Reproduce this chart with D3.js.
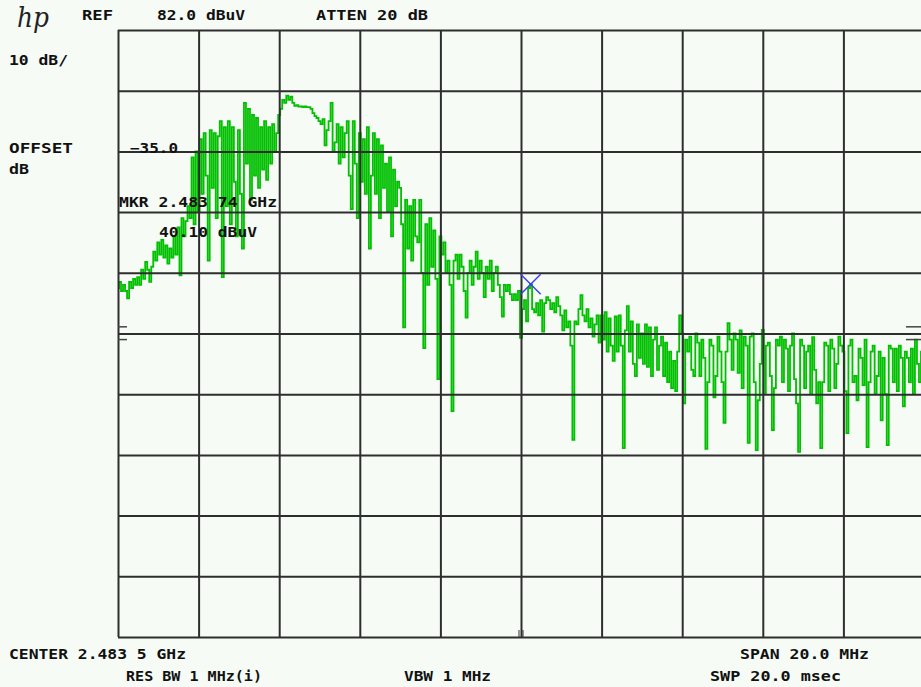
<!DOCTYPE html>
<html>
<head>
<meta charset="utf-8">
<script src="https://cdn.jsdelivr.net/npm/d3@7"></script>
<style>
  html, body { margin: 0; padding: 0; background: #f6fbf6; }
  svg { display: block; }
  .lbl { font-family: "DejaVu Sans Mono", monospace; font-weight: bold; font-size: 14px; fill: #111; }
</style>
</head>
<body>
<svg id="chart" width="921" height="687"></svg>
<script>
// ---- Data (HP spectrum analyzer trace, dBuV) ----
const centerMHz = 2483.5;
const spanMHz = 20.0;
const refLevel = 82.0;      // dBuV, top graticule
const dbPerDiv = 10;
const divisions = [0, 1, 2, 3, 4, 5, 6, 7, 8, 9, 10];
const markerFreqMHz = 2483.74;
const markerLevel = 40.10;
const displayLineMarks = [33.1, 31.0];   // small side indicators (dBuV)

// 401 sweep points, left to right (dBuV)
const traceValues = [
  39.5, 40.5, 39, 40, 39, 37.8, 40.5, 39.5, 41, 40,
  41.3, 40, 42.5, 41, 43.8, 42.5, 40.5, 43, 45.5, 44,
  47, 45, 47.4, 44.5, 46.5, 43.5, 46, 44.5, 48, 45,
  49.5, 41.6, 51, 48, 50.5, 53, 51, 61, 50, 62,
  52, 64, 55, 65, 58, 44, 65.5, 56, 65, 51,
  64.5, 67, 41.3, 66, 53, 67, 50, 66, 57, 48,
  65.5, 55, 46, 70, 60, 69, 54, 68, 58, 67.5,
  56, 66, 59, 67, 57.3, 66, 60, 66.5, 62, 65,
  68, 69, 70.5, 70, 71.2, 70.5, 71, 70, 69.5, 69.6,
  69.4, 69.4, 69.3, 69.4, 69.3, 69.3, 69, 68.3, 67.8, 67.5,
  67, 66.5, 67.3, 63, 65.5, 67, 70, 62, 63.5, 66.5,
  60, 66, 61, 65, 67, 58, 52.5, 67, 60, 51,
  65, 57, 64, 55, 66, 46, 58, 65, 55, 64,
  51, 63, 56, 60, 52, 61, 48, 59, 53, 57,
  56, 50, 33, 54, 46, 53, 44, 54, 48, 47,
  54, 42, 29.6, 50, 40, 51, 43, 49, 41, 24.5,
  48, 45, 47, 42, 44, 40, 19.2, 44, 45, 41,
  45, 43, 39, 34.6, 42, 44, 40, 43, 45.5, 41,
  44, 42, 38, 43, 41, 44, 39, 42, 43, 40,
  38, 34.8, 40, 39, 40, 38.5, 37.5, 38.5, 37.5, 39,
  31.3, 36, 37.5, 34, 39.5, 40.1, 36, 35.5, 37, 35,
  37.5, 32.3, 37, 38, 37.5, 36, 37, 35.5, 38, 36.5,
  35, 32.5, 35.8, 33, 34, 30, 14.5, 34, 33.5, 36,
  38.3, 35, 34, 36, 33, 34.5, 31.5, 33.5, 35, 30.5,
  35, 31, 35.5, 29, 34.5, 30, 27.5, 34.8, 29, 35,
  30, 13.1, 32.5, 36.5, 29, 34, 27, 25, 33.5, 28,
  32, 27, 33.5, 26.5, 33, 25, 31, 33, 26, 30,
  31.5, 25, 30.5, 24, 29, 23, 27.5, 22.5, 29, 35,
  32, 20.5, 31, 29, 31.5, 26, 25, 32, 30.5, 25,
  31, 28, 13, 24, 31, 30, 21.5, 25, 31.5, 29,
  24, 17.3, 29, 33.7, 31, 26, 32, 31, 25.5, 32.5,
  23, 31.5, 30, 14, 31.5, 32, 24, 12.8, 21, 27,
  32.6, 22, 30, 30.5, 25, 16.1, 23, 31, 30, 31.5,
  24, 31, 29.5, 22.5, 30, 32, 24.5, 20.5, 12.5, 31,
  30, 23, 29, 30, 22, 31.4, 26, 20.5, 24, 13.1,
  24, 30.5, 30, 22.5, 31, 29.5, 23, 27, 31.5, 30,
  29, 22.5, 15.6, 30, 31, 24, 25, 21, 29.5, 28,
  23.5, 31, 13.3, 24, 29, 30, 22, 25, 29, 17.7,
  28, 22, 13.6, 30, 29.5, 24, 29.5, 22.5, 30, 28,
  20, 29, 28, 24, 29.5, 22, 31, 27, 24, 29, 30
];

// Annotation texts
const labelTexts = [
  { t: "REF", x: 82, y: 20, w: 31 },
  { t: "82.0 dBuV", x: 157, y: 20, w: 88 },
  { t: "ATTEN 20 dB", x: 316, y: 20, w: 112 },
  { t: "10 dB/", x: 9, y: 65, w: 59 },
  { t: "OFFSET", x: 9, y: 153, w: 64 },
  { t: "dB", x: 9, y: 174, w: 20 },
  { t: "\u221235.0", x: 130, y: 153, w: 48 },
  { t: "MKR 2.483 74 GHz", x: 119, y: 207, w: 158 },
  { t: "40.10 dBuV", x: 159, y: 237, w: 98 },
  { t: "CENTER 2.483 5 GHz", x: 9, y: 659, w: 177 },
  { t: "SPAN 20.0 MHz", x: 740, y: 659, w: 129 },
  { t: "RES BW 1 MHz(i)", x: 126, y: 681, w: 136 },
  { t: "VBW 1 MHz", x: 404, y: 681, w: 87 },
  { t: "SWP 20.0 msec", x: 710, y: 681, w: 131 }
];

// ---- Layout ----
const plot = { left: 118, top: 30, width: 806, height: 607 };
const svg = d3.select("#chart");

const startMHz = centerMHz - spanMHz / 2;
const stopMHz = centerMHz + spanMHz / 2;
const x = d3.scaleLinear().domain([startMHz, stopMHz]).range([plot.left, plot.left + plot.width]);
const y = d3.scaleLinear().domain([refLevel - dbPerDiv * 10, refLevel]).range([plot.top + plot.height, plot.top]);

const nPts = traceValues.length;
const stepMHz = spanMHz / (nPts - 1);
const trace = traceValues.map((v, i) => ({ f: startMHz + i * stepMHz, v }));

svg.append("rect").attr("width", 921).attr("height", 687).attr("fill", "#f6fbf6");

svg.append("clipPath").attr("id", "clip")
  .append("rect").attr("x", plot.left).attr("y", plot.top)
  .attr("width", plot.width).attr("height", plot.height);

// Trace
const line = d3.line().x(d => x(d.f)).y(d => y(d.v)).curve(d3.curveStep);
svg.append("path").datum(trace)
  .attr("clip-path", "url(#clip)")
  .attr("d", line)
  .attr("fill", "none")
  .attr("stroke", "#00c000")
  .attr("stroke-width", 1.8);

// Graticule via axes
const xGridVals = divisions.map(k => startMHz + k * spanMHz / 10);
const yGridVals = divisions.map(k => refLevel - k * dbPerDiv);

const gx = svg.append("g").attr("transform", `translate(0,${plot.top + plot.height})`)
  .call(d3.axisBottom(x).tickValues(xGridVals).tickSize(-plot.height).tickFormat(""));
const gy = svg.append("g").attr("transform", `translate(${plot.left},0)`)
  .call(d3.axisLeft(y).tickValues(yGridVals).tickSize(-plot.width).tickFormat(""));
[gx, gy].forEach(g => {
  g.select(".domain").remove();
  g.selectAll(".tick line").attr("stroke", "#2e2e2e").attr("stroke-width", 2);
});

// Side indicators
displayLineMarks.forEach(v => {
  svg.append("line").attr("x1", plot.left).attr("x2", plot.left + 9)
    .attr("y1", y(v)).attr("y2", y(v))
    .attr("stroke", "#444").attr("stroke-width", 1.5);
  svg.append("line").attr("x1", 906).attr("x2", 921)
    .attr("y1", y(v)).attr("y2", y(v))
    .attr("stroke", "#444").attr("stroke-width", 1.5);
});

// Center frequency tick marks at bottom
[centerMHz - 0.05, centerMHz + 0.05].forEach(f => {
  svg.append("line").attr("x1", x(f)).attr("x2", x(f))
    .attr("y1", plot.top + plot.height - 7).attr("y2", plot.top + plot.height)
    .attr("stroke", "#333").attr("stroke-width", 1);
});

// Marker X
const mx = x(markerFreqMHz), my = y(markerLevel);
const armLen = 10;
svg.append("path")
  .attr("d", `M${mx - armLen},${my - armLen}L${mx + armLen},${my + armLen}M${mx - armLen},${my + armLen}L${mx + armLen},${my - armLen}`)
  .attr("stroke", "#3a3aff").attr("stroke-width", 1.4).attr("fill", "none");

// HP logo
svg.append("text").attr("x", 17).attr("y", 27)
  .attr("font-family", "DejaVu Serif, serif").attr("font-style", "italic")
  .attr("font-size", 27).attr("fill", "#222").attr("textLength", 32)
  .attr("lengthAdjust", "spacingAndGlyphs").text("hp");

// Annotation texts
svg.selectAll("text.lbl").data(labelTexts).enter().append("text")
  .attr("class", "lbl")
  .attr("x", d => d.x).attr("y", d => d.y)
  .attr("textLength", d => d.w).attr("lengthAdjust", "spacingAndGlyphs")
  .text(d => d.t);
</script>
</body>
</html>
